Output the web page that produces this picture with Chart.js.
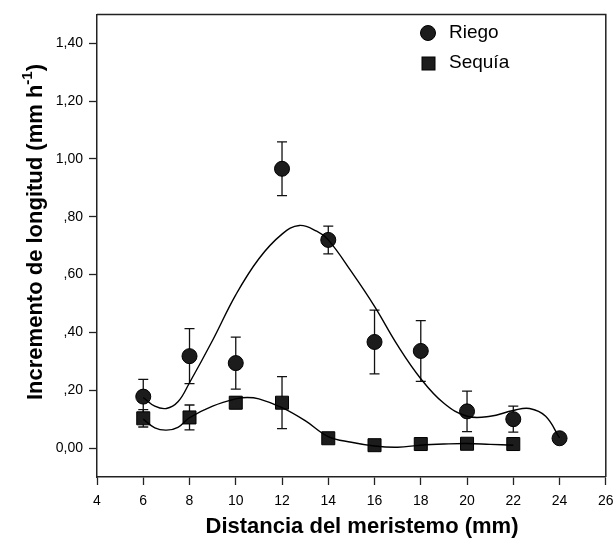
<!DOCTYPE html>
<html>
<head>
<meta charset="utf-8">
<script src="https://cdn.jsdelivr.net/npm/chart.js@4"></script>
<style>
  html, body { margin: 0; padding: 0; background: #fff; }
  #wrap { width: 616px; height: 544px; }
</style>
</head>
<body>
<div id="wrap"><canvas id="grafico" width="616" height="544"></canvas></div>
<script>
// Ejes
const xTicks = [4, 6, 8, 10, 12, 14, 16, 18, 20, 22, 24, 26];
const yTicks = [0, 0.2, 0.4, 0.6, 0.8, 1.0, 1.2, 1.4];

// Medias y errores
const distRiego = [6, 8, 10, 12, 14, 16, 18, 20, 22, 24];
const riego = [0.178, 0.318, 0.294, 0.966, 0.72, 0.367, 0.336, 0.127, 0.10, 0.034];
const riegoErr = [0.06, 0.095, 0.09, 0.093, 0.048, 0.11, 0.105, 0.07, 0.045, 0];

const distSequia = [6, 8, 10, 12, 14, 16, 18, 20, 22];
const sequia = [0.103, 0.106, 0.157, 0.157, 0.034, 0.01, 0.014, 0.015, 0.014];
const sequiaErr = [0.03, 0.043, 0.02, 0.09, 0.01, 0, 0, 0, 0];

// Curvas de ajuste (leidas punto a punto)
const ajusteRiegoX = [6, 6.5, 7, 7.5, 8, 9, 10, 11, 12, 12.75, 13.5, 14, 15, 16, 17, 18, 19, 20, 21, 22, 22.7, 23.4, 24];
const ajusteRiegoY = [0.175, 0.145, 0.137, 0.16, 0.226, 0.373, 0.53, 0.655, 0.74, 0.77, 0.75, 0.72, 0.61, 0.49, 0.355, 0.24, 0.155, 0.11, 0.11, 0.13, 0.137, 0.11, 0.035];
const ajusteSequiaX = [6, 6.5, 7, 7.5, 8, 9, 10, 10.5, 11, 12, 13, 14, 15, 16, 17, 18, 19, 20, 21, 22];
const ajusteSequiaY = [0.10, 0.07, 0.062, 0.072, 0.105, 0.145, 0.17, 0.175, 0.17, 0.14, 0.095, 0.04, 0.02, 0.007, 0.003, 0.01, 0.014, 0.016, 0.013, 0.01];

const FUENTE = "Arial, 'Liberation Sans', sans-serif";
const zip = (xs, ys) => xs.map((x, i) => ({ x: x, y: ys[i] }));

const fmtY = (v) => {
  const s = v.toFixed(2).replace(".", ",");
  return (v > 0 && v < 1) ? s.slice(1) : s;
};

// barras de error por debajo de los marcadores
const errorBars = {
  id: "errorBars",
  beforeDatasetsDraw(chart) {
    const { ctx, scales: { x, y } } = chart;
    const series = [[distRiego, riego, riegoErr], [distSequia, sequia, sequiaErr]];
    ctx.save();
    ctx.strokeStyle = "#111";
    ctx.lineWidth = 1.3;
    series.forEach(([xs, ys, es]) => {
      xs.forEach((d, i) => {
        if (!es[i]) return;
        const px = x.getPixelForValue(d);
        const top = y.getPixelForValue(ys[i] + es[i]);
        const bot = y.getPixelForValue(ys[i] - es[i]);
        ctx.beginPath();
        ctx.moveTo(px, top); ctx.lineTo(px, bot);
        ctx.moveTo(px - 5, top); ctx.lineTo(px + 5, top);
        ctx.moveTo(px - 5, bot); ctx.lineTo(px + 5, bot);
        ctx.stroke();
      });
    });
    ctx.restore();
  }
};

// marco, leyenda y titulos de ejes
const decoracion = {
  id: "decoracion",
  afterDraw(chart) {
    const { ctx, chartArea: a } = chart;
    ctx.save();
    ctx.strokeStyle = "#222";
    ctx.lineWidth = 1.5;
    ctx.beginPath();
    ctx.moveTo(a.left, a.top); ctx.lineTo(a.right, a.top); ctx.lineTo(a.right, a.bottom);
    ctx.stroke();

    // leyenda
    ctx.fillStyle = "#1c1c1c";
    ctx.strokeStyle = "#000";
    ctx.lineWidth = 1;
    ctx.beginPath(); ctx.arc(428, 33, 7.5, 0, Math.PI * 2); ctx.fill(); ctx.stroke();
    ctx.fillRect(422, 57, 13, 13); ctx.strokeRect(422, 57, 13, 13);
    ctx.fillStyle = "#000";
    ctx.font = "19px " + FUENTE;
    ctx.textBaseline = "middle";
    ctx.textAlign = "left";
    ctx.fillText("Riego", 449, 33);
    ctx.fillText("Sequía", 449, 63);

    // titulo eje x
    ctx.font = "bold 22px " + FUENTE;
    ctx.textAlign = "center";
    ctx.fillText("Distancia del meristemo (mm)", 362, 527);

    // titulo eje y con superindice
    ctx.translate(36, 232);
    ctx.rotate(-Math.PI / 2);
    const base = "Incremento de longitud (mm h";
    const sup = "-1";
    const fin = ")";
    ctx.font = "bold 22px " + FUENTE;
    const wBase = ctx.measureText(base).width;
    const wFin = ctx.measureText(fin).width;
    ctx.font = "bold 15px " + FUENTE;
    const wSup = ctx.measureText(sup).width;
    let px = -(wBase + wSup + wFin) / 2;
    ctx.textAlign = "left";
    ctx.font = "bold 22px " + FUENTE;
    ctx.fillText(base, px, 0);
    px += wBase;
    ctx.font = "bold 15px " + FUENTE;
    ctx.fillText(sup, px, -8);
    px += wSup;
    ctx.font = "bold 22px " + FUENTE;
    ctx.fillText(fin, px, 0);
    ctx.restore();
  }
};

const ctx = document.getElementById("grafico").getContext("2d");
const chart = new Chart(ctx, {
  type: "scatter",
  data: {
    datasets: [
      {
        label: "ajuste Riego",
        data: zip(ajusteRiegoX, ajusteRiegoY),
        showLine: true,
        tension: 0.4,
        borderColor: "#000",
        borderWidth: 1.4,
        pointRadius: 0,
      },
      {
        label: "ajuste Sequía",
        data: zip(ajusteSequiaX, ajusteSequiaY),
        showLine: true,
        tension: 0.4,
        borderColor: "#000",
        borderWidth: 1.4,
        pointRadius: 0,
      },
      {
        label: "Riego",
        data: zip(distRiego, riego),
        pointStyle: "circle",
        pointRadius: 7.5,
        backgroundColor: "#1c1c1c",
        borderColor: "#000",
        borderWidth: 1,
      },
      {
        label: "Sequía",
        data: zip(distSequia, sequia),
        pointStyle: "rect",
        pointRadius: 9.2,
        backgroundColor: "#1c1c1c",
        borderColor: "#000",
        borderWidth: 1,
      },
    ],
  },
  options: {
    responsive: false,
    animation: false,
    layout: { padding: { top: 10, right: 9, left: 0, bottom: 0 } },
    plugins: {
      legend: { display: false },
      tooltip: { enabled: false },
    },
    scales: {
      x: {
        type: "linear",
        min: 4,
        max: 26,
        afterBuildTicks: (s) => { s.ticks = xTicks.map((v) => ({ value: v })); },
        afterFit: (s) => { s.height = 67; s.paddingLeft = 0; s.paddingRight = 0; },
        grid: { drawOnChartArea: false, tickLength: 8, color: "#222", tickWidth: 1.3 },
        border: { color: "#222", width: 1.5 },
        ticks: { color: "#000", padding: 8, font: { family: FUENTE, size: 14 } },
      },
      y: {
        type: "linear",
        min: -0.1,
        max: 1.5,
        afterBuildTicks: (s) => { s.ticks = yTicks.map((v) => ({ value: v })); },
        afterFit: (s) => { s.width = 97; },
        grid: { drawOnChartArea: false, tickLength: 8, color: "#222", tickWidth: 1.3 },
        border: { color: "#222", width: 1.5 },
        ticks: { color: "#000", padding: 6, font: { family: FUENTE, size: 14 }, callback: (v) => fmtY(v) },
      },
    },
  },
  plugins: [errorBars, decoracion],
});
</script>
</body>
</html>
